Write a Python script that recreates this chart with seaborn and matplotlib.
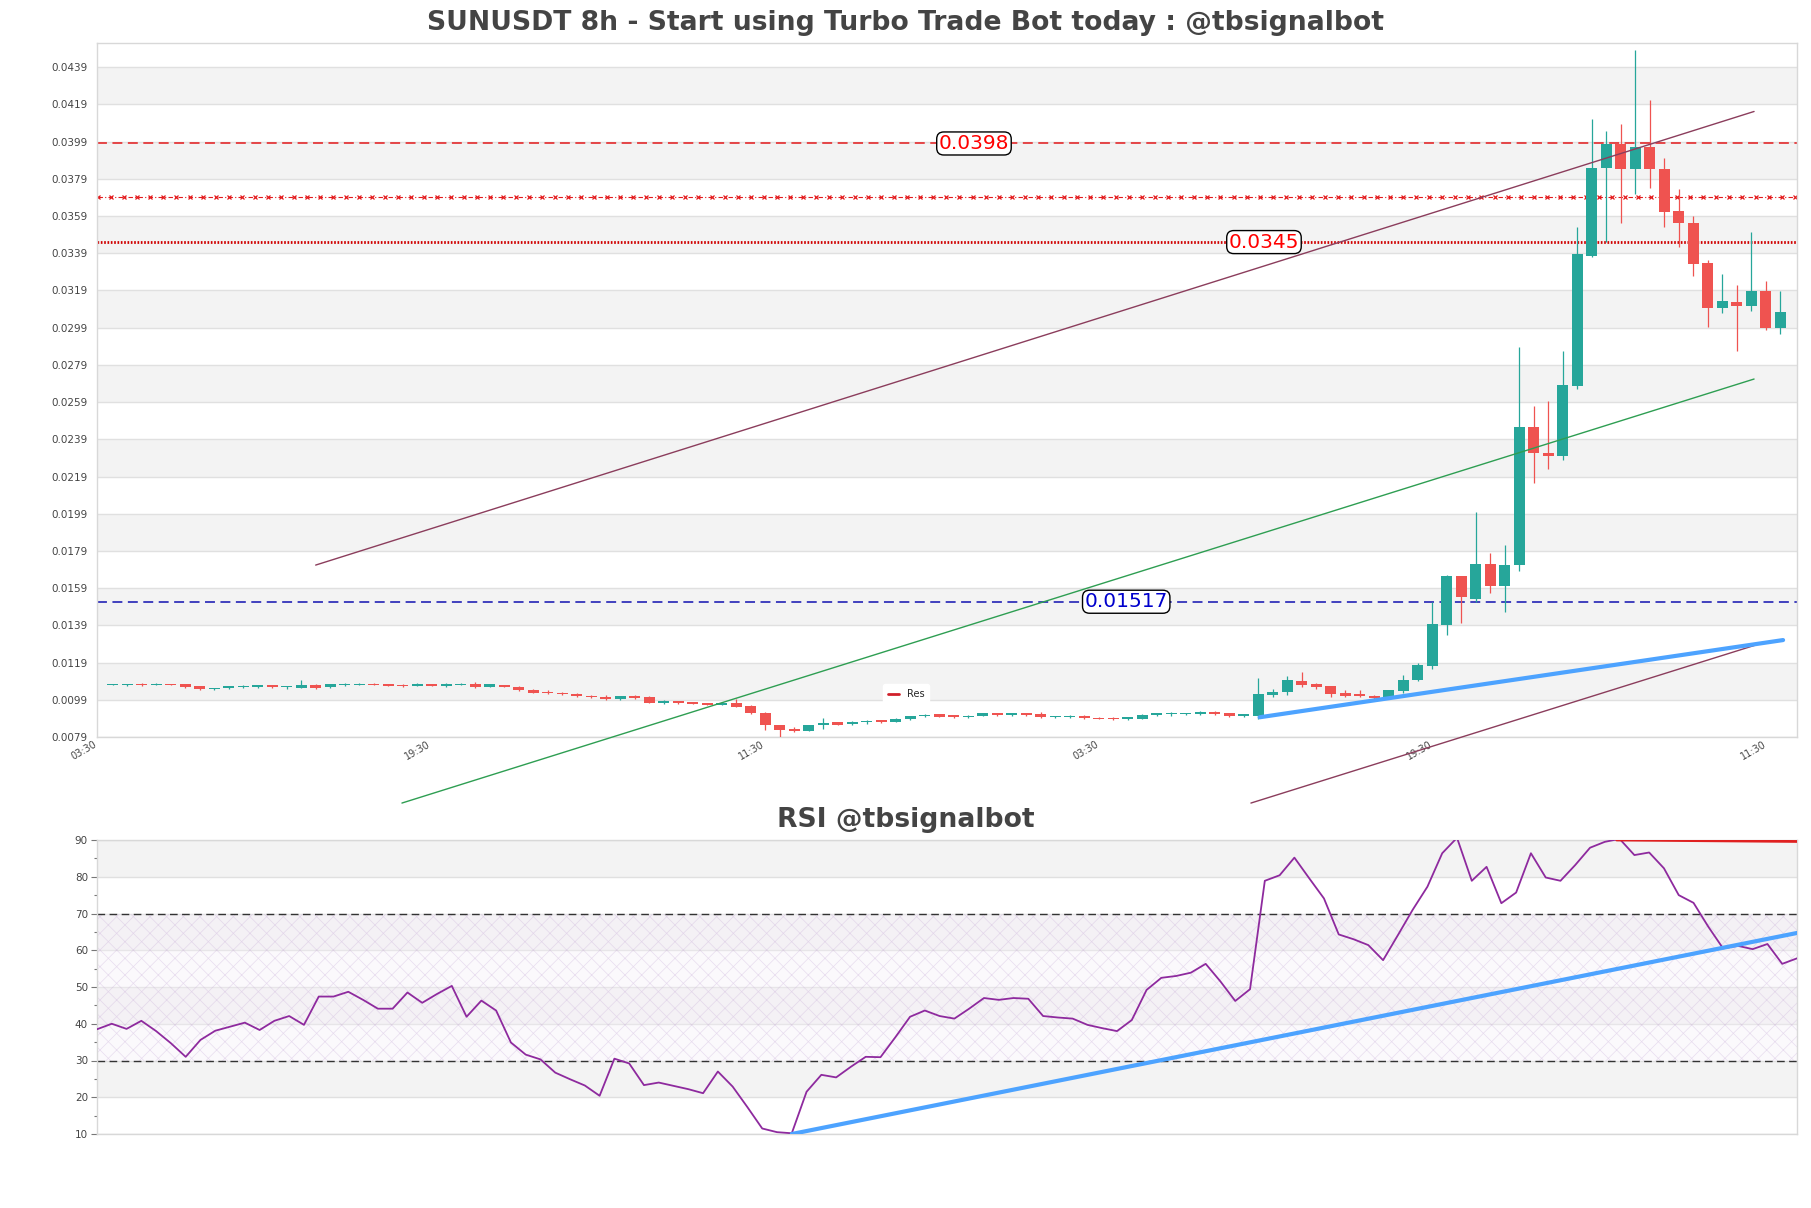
import numpy as np
import matplotlib
matplotlib.use("Agg")
import matplotlib.pyplot as plt
import matplotlib.transforms as mtransforms
from matplotlib.lines import Line2D
from matplotlib.ticker import MultipleLocator
import seaborn as sns

# ---------------- data ----------------
opens = [0.01071, 0.01070, 0.01075, 0.01071, 0.01075, 0.01073, 0.01062, 0.01046, 0.01053, 0.01057,
         0.01057, 0.01068, 0.01057, 0.01055, 0.01068, 0.01057, 0.01070, 0.01071, 0.01075, 0.01073,
         0.01070, 0.01064, 0.01075, 0.01064, 0.01070, 0.01077, 0.01060, 0.01068, 0.01059, 0.01044,
         0.01033, 0.01029, 0.01023, 0.01012, 0.01007, 0.00992, 0.01010, 0.01005, 0.00973, 0.00983,
         0.00977, 0.00973, 0.00964, 0.00973, 0.00957, 0.00921, 0.00855, 0.00834, 0.00823, 0.00853,
         0.00868, 0.00859, 0.00868, 0.00879, 0.00871, 0.00886, 0.00901, 0.00912, 0.00907, 0.00897,
         0.00903, 0.00917, 0.00908, 0.00917, 0.00914, 0.00897, 0.00897, 0.00901, 0.00894, 0.00894,
         0.00888, 0.00889, 0.00906, 0.00912, 0.00912, 0.00912, 0.00925, 0.00917, 0.00901, 0.00903,
         0.01015, 0.01031, 0.01092, 0.01076, 0.01062, 0.01027, 0.01020, 0.01013, 0.00998, 0.01036,
         0.01094, 0.01170, 0.01392, 0.01654, 0.01533, 0.01720, 0.01599, 0.01713, 0.02455, 0.02318,
         0.02302, 0.02675, 0.03374, 0.03846, 0.03976, 0.03842, 0.03962, 0.03844, 0.03617, 0.03553,
         0.03338, 0.03097, 0.03127, 0.03109, 0.03187, 0.02989]
highs = [0.01075, 0.01076, 0.01078, 0.01078, 0.01077, 0.01075, 0.01065, 0.01056, 0.01064, 0.01070,
         0.01070, 0.01070, 0.01066, 0.01094, 0.01073, 0.01075, 0.01080, 0.01080, 0.01081, 0.01076,
         0.01077, 0.01080, 0.01077, 0.01081, 0.01078, 0.01083, 0.01075, 0.01070, 0.01062, 0.01046,
         0.01044, 0.01031, 0.01025, 0.01016, 0.01016, 0.01012, 0.01016, 0.01008, 0.00990, 0.00986,
         0.00979, 0.00975, 0.00977, 0.00994, 0.00964, 0.00925, 0.00857, 0.00842, 0.00855, 0.00890,
         0.00872, 0.00874, 0.00882, 0.00882, 0.00890, 0.00905, 0.00914, 0.00914, 0.00910, 0.00908,
         0.00920, 0.00920, 0.00920, 0.00920, 0.00922, 0.00905, 0.00906, 0.00906, 0.00898, 0.00898,
         0.00900, 0.00912, 0.00921, 0.00927, 0.00920, 0.00929, 0.00932, 0.00919, 0.00915, 0.01105,
         0.01047, 0.01116, 0.01137, 0.01080, 0.01065, 0.01040, 0.01040, 0.01016, 0.01040, 0.01121,
         0.01188, 0.01518, 0.01663, 0.01657, 0.01997, 0.01780, 0.01820, 0.02886, 0.02571, 0.02596,
         0.02864, 0.03533, 0.04109, 0.04045, 0.04085, 0.04484, 0.04215, 0.03902, 0.03733, 0.03590,
         0.03352, 0.03279, 0.03219, 0.03502, 0.03239, 0.03187]
lows = [0.01069, 0.01066, 0.01066, 0.01068, 0.01067, 0.01055, 0.01040, 0.01043, 0.01050, 0.01053,
        0.01055, 0.01055, 0.01050, 0.01053, 0.01048, 0.01055, 0.01066, 0.01068, 0.01068, 0.01062,
        0.01061, 0.01062, 0.01062, 0.01060, 0.01067, 0.01054, 0.01058, 0.01057, 0.01035, 0.01025,
        0.01022, 0.01018, 0.01006, 0.01000, 0.00989, 0.00990, 0.00996, 0.00972, 0.00968, 0.00970,
        0.00966, 0.00961, 0.00962, 0.00950, 0.00913, 0.00827, 0.00790, 0.00816, 0.00820, 0.00834,
        0.00852, 0.00853, 0.00862, 0.00866, 0.00869, 0.00884, 0.00896, 0.00895, 0.00892, 0.00894,
        0.00901, 0.00905, 0.00905, 0.00905, 0.00894, 0.00894, 0.00893, 0.00887, 0.00885, 0.00880,
        0.00882, 0.00887, 0.00901, 0.00901, 0.00910, 0.00907, 0.00907, 0.00897, 0.00897, 0.00888,
        0.01004, 0.01015, 0.01058, 0.01047, 0.01007, 0.01004, 0.01004, 0.00989, 0.00995, 0.01029,
        0.01090, 0.01157, 0.01338, 0.01404, 0.01518, 0.01563, 0.01460, 0.01681, 0.02153, 0.02228,
        0.02280, 0.02661, 0.03372, 0.03448, 0.03555, 0.03707, 0.03743, 0.03533, 0.03422, 0.03268,
        0.02994, 0.03069, 0.02866, 0.03079, 0.02979, 0.02955]
closes = [0.01074, 0.01074, 0.01070, 0.01075, 0.01069, 0.01057, 0.01046, 0.01053, 0.01062, 0.01061,
          0.01068, 0.01057, 0.01060, 0.01068, 0.01055, 0.01073, 0.01074, 0.01075, 0.01071, 0.01064,
          0.01066, 0.01075, 0.01064, 0.01075, 0.01075, 0.01057, 0.01073, 0.01059, 0.01040, 0.01029,
          0.01028, 0.01021, 0.01009, 0.01003, 0.00992, 0.01010, 0.00999, 0.00975, 0.00984, 0.00973,
          0.00970, 0.00964, 0.00975, 0.00953, 0.00918, 0.00855, 0.00827, 0.00822, 0.00853, 0.00866,
          0.00857, 0.00870, 0.00877, 0.00870, 0.00888, 0.00903, 0.00910, 0.00897, 0.00896, 0.00905,
          0.00917, 0.00908, 0.00917, 0.00908, 0.00897, 0.00901, 0.00900, 0.00890, 0.00888, 0.00885,
          0.00895, 0.00910, 0.00917, 0.00919, 0.00917, 0.00925, 0.00912, 0.00901, 0.00912, 0.01022,
          0.01033, 0.01094, 0.01067, 0.01058, 0.01020, 0.01013, 0.01009, 0.01000, 0.01040, 0.01098,
          0.01175, 0.01395, 0.01654, 0.01540, 0.01720, 0.01599, 0.01715, 0.02455, 0.02318, 0.02302,
          0.02681, 0.03384, 0.03848, 0.03976, 0.03842, 0.03962, 0.03842, 0.03613, 0.03551, 0.03334,
          0.03097, 0.03133, 0.03109, 0.03187, 0.02989, 0.03073]

rsi_values = [38.5, 40.0, 38.6, 40.8, 38.0, 34.7, 31.0, 35.6, 38.1, 39.2,
              40.3, 38.3, 40.8, 42.1, 39.7, 47.4, 47.4, 48.7, 46.5, 44.1,
              44.1, 48.5, 45.7, 48.1, 50.3, 41.9, 46.3, 43.6, 34.9, 31.6,
              30.3, 26.7, 24.9, 23.2, 20.4, 30.5, 29.2, 23.3, 24.0, 23.1,
              22.2, 21.1, 27.0, 22.9, 17.3, 11.5, 10.5, 10.2, 21.5, 26.1,
              25.4, 28.3, 31.0, 30.9, 36.3, 41.9, 43.6, 42.1, 41.4, 44.1,
              47.0, 46.5, 47.0, 46.8, 42.1, 41.7, 41.4, 39.7, 38.8, 38.0,
              41.0, 49.2, 52.5, 53.0, 53.9, 56.3, 51.5, 46.2, 49.4, 78.9,
              80.4, 85.2, 79.6, 74.1, 64.3, 63.0, 61.4, 57.3, 64.1, 71.0,
              77.3, 86.4, 90.6, 78.9, 82.7, 72.8, 75.7, 86.4, 79.8, 78.9,
              83.2, 87.9, 89.5, 90.3, 85.9, 86.6, 82.3, 75.0, 72.9, 66.4,
              60.5, 61.2, 60.3, 61.7, 56.3, 57.8]

xtick_labels = ["03:30", "19:30", "11:30", "03:30", "19:30", "11:30"]
xtick_positions = [-1.0, 22.03, 45.06, 68.09, 91.12, 114.15]

price_ticks = [0.0079, 0.0099, 0.0119, 0.0139, 0.0159, 0.0179, 0.0199, 0.0219, 0.0239, 0.0259,
               0.0279, 0.0299, 0.0319, 0.0339, 0.0359, 0.0379, 0.0399, 0.0419, 0.0439]

res_upper = 0.0398
res_marked = 0.0369
res_dotted = 0.0345
sup_level = 0.01517

# trend lines: (x0, y0, x1, y1)
brown_line_1 = (14.0, 0.01714, 113.2, 0.04152)
green_line = (19.95, 0.00435, 113.2, 0.02714)
brown_line_2 = (78.5, 0.00435, 113.3, 0.01284)
blue_line = (79.1, 0.00896, 115.2, 0.01311)
rsi_blue_line = (47.0, 10.0, 115.0, 64.7)
rsi_red_line = (102.8, 90.0, 115.0, 89.6)

# ---------------- style ----------------
sns.set_theme(style="white")
plt.rcParams["font.family"] = ["DejaVu Sans"]
plt.rcParams["hatch.linewidth"] = 0.5

UP = "#26a69a"
DOWN = "#ef5350"
BAND = "#f3f3f3"
GRID = "#e0e0e0"
SPINE = "#d8d8d8"
TXT = "#444444"

fig = plt.figure(figsize=(18.11, 12.08), dpi=100)
ax = fig.add_axes([97 / 1811, 1 - 737 / 1208, 1700 / 1811, 694 / 1208])
ax2 = fig.add_axes([97 / 1811, 1 - 1134 / 1208, 1700 / 1811, 294 / 1208])

n = len(opens)
idx = np.arange(n)
o = np.array(opens); h = np.array(highs); l = np.array(lows); c = np.array(closes)
up = c >= o

# ---------------- main chart ----------------
ax.set_xlim(-1.08, 116.16)
ax.set_ylim(0.0079, 0.0452)

for k in range(1, len(price_ticks) - 1, 2):
    ax.axhspan(price_ticks[k], price_ticks[k + 1], color=BAND, zorder=0, lw=0)
for t in price_ticks:
    ax.axhline(t, color=GRID, lw=1.0, zorder=0.5)

colors = np.where(up, UP, DOWN)
ax.vlines(idx, l, h, colors=colors, lw=0.9, zorder=3)
body_bottom = np.minimum(o, c)
body_height = np.maximum(np.abs(c - o), 0.00005)
ax.bar(idx, body_height, bottom=body_bottom, width=0.74, color=colors, edgecolor=colors,
       lw=0, zorder=4)

# horizontal levels
ax.axhline(res_upper, color="#e31a1c", lw=1.1, ls=(0, (6.5, 3.6)), zorder=2)
marked_x = np.arange(-1.0, 116.2, 0.9)
ax.plot(marked_x, np.full(len(marked_x), res_marked), color="#e31a1c", lw=0.8,
        ls=(0, (4, 2, 1, 2)), marker="x", ms=3.0, mew=0.9, zorder=2)
ax.axhline(res_dotted, color="#d00000", lw=2.0, ls=(0, (0.6, 0.6)), zorder=2)
ax.axhline(sup_level, color="#1010b0", lw=1.1, ls=(0, (6.5, 3.6)), zorder=2)

# trend lines (unclipped)
for (x0, y0, x1, y1), col, lw in [(brown_line_1, "#8b3d5c", 1.0), (green_line, "#2e9e52", 1.0),
                                  (brown_line_2, "#8b3d5c", 1.0), (blue_line, "#4da3ff", 3.0)]:
    sns.lineplot(x=[x0, x1], y=[y0, y1], ax=ax, color=col, lw=lw, zorder=5)
for line in ax.get_lines()[-4:]:
    line.set_clip_on(False)

box = dict(boxstyle="round,pad=0.1,rounding_size=0.35", fc="white", ec="black", lw=1.0)
ax.text(59.4, res_upper, "0.0398", color="red", fontsize=14.5, ha="center", va="center", bbox=box, zorder=6)
ax.text(79.4, res_dotted, "0.0345", color="red", fontsize=14.5, ha="center", va="center", bbox=box, zorder=6)
ax.text(69.9, sup_level, "0.01517", color="#0000cc", fontsize=14.5, ha="center", va="center", bbox=box, zorder=6)

ax.set_yticks(price_ticks)
ax.set_yticklabels([f"{t:.4f}" for t in price_ticks])
ax.set_xticks(xtick_positions)
ax.set_xticklabels(xtick_labels, rotation=30, ha="right")
offset = mtransforms.ScaledTranslation(-3 / 100, 0, fig.dpi_scale_trans)
for lbl in ax.get_xticklabels():
    lbl.set_transform(lbl.get_transform() + offset)
ax.tick_params(axis="y", length=0, pad=6.5, labelsize=7.5, labelcolor=TXT)
ax.tick_params(axis="x", length=0, pad=1.5, labelsize=7, labelcolor=TXT)
ax.set_xlabel(""); ax.set_ylabel("")
for sp in ax.spines.values():
    sp.set_color(SPINE); sp.set_linewidth(1.0)

leg = ax.legend(handles=[Line2D([], [], color="#d0202a", lw=2)], labels=["Res"],
                loc="center", bbox_to_anchor=(0.476, 0.062), fontsize=7, frameon=True,
                handlelength=1.1, handletextpad=0.8, borderpad=0.5)
leg.get_frame().set_facecolor("white")
leg.get_frame().set_edgecolor("white")
leg.get_frame().set_alpha(1.0)
leg.set_zorder(7)

# ---------------- RSI ----------------
ax2.set_xlim(0, n - 1)
ax2.set_ylim(10, 90)
for lo in (20, 40, 60, 80):
    ax2.axhspan(lo, lo + 10, color=BAND, zorder=0, lw=0)
for t in range(10, 91, 10):
    ax2.axhline(t, color=GRID, lw=1.0, zorder=0.5)
ax2.axhspan(30, 70, facecolor="#f6f0f9", edgecolor="#c4a6d6", hatch="xx", lw=0, alpha=0.35, zorder=0.6)
ax2.axhline(70, color="#333333", lw=1.0, ls=(0, (5.5, 3.2)), zorder=2)
ax2.axhline(30, color="#333333", lw=1.0, ls=(0, (5.5, 3.2)), zorder=2)

sns.lineplot(x=idx, y=rsi_values, ax=ax2, color="#8e2a9e", lw=1.3, zorder=4)
x0, y0, x1, y1 = rsi_blue_line
sns.lineplot(x=[x0, x1], y=[y0, y1], ax=ax2, color="#4da3ff", lw=3.0, zorder=5)
x0, y0, x1, y1 = rsi_red_line
sns.lineplot(x=[x0, x1], y=[y0, y1], ax=ax2, color="#e02020", lw=2.0, zorder=5)

ax2.set_yticks(range(10, 91, 10))
ax2.yaxis.set_minor_locator(MultipleLocator(5))
ax2.set_xticks([])
ax2.tick_params(axis="y", which="major", left=True, length=4, width=0.8, color="#777777",
                pad=2.5, labelsize=7.5, labelcolor=TXT)
ax2.tick_params(axis="y", which="minor", left=True, length=2, width=0.8, color="#777777")
ax2.set_xlabel(""); ax2.set_ylabel("")
for sp in ax2.spines.values():
    sp.set_color(SPINE); sp.set_linewidth(1.0)

# ---------------- titles ----------------
fig.text(0.5, 1 - 23 / 1208, "SUNUSDT 8h - Start using Turbo Trade Bot today : @tbsignalbot",
         ha="center", va="center", fontsize=19.2, fontweight="bold", color=TXT)
fig.text(0.5, 1 - 820 / 1208, "RSI @tbsignalbot",
         ha="center", va="center", fontsize=19.2, fontweight="bold", color=TXT)

fig.savefig("out.png", dpi=100)
